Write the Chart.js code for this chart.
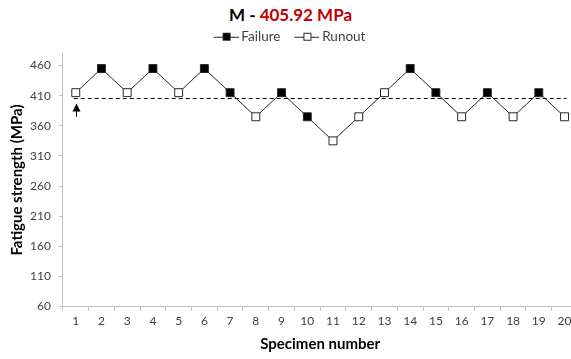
<!DOCTYPE html>
<html lang="en">
<head>
  <meta charset="UTF-8" />
  <title>Staircase fatigue test</title>
  <script src="https://cdn.jsdelivr.net/npm/chart.js"></script>
  <style>
    * { box-sizing: border-box; }
    body {
      margin: 0;
      background: #fff;
      font-family: Lato, 'Liberation Sans', sans-serif;
      width: 571px;
      height: 359px;
      overflow: hidden;
    }
    #title {
      width: 571px;
      height: 27px;
      text-align: center;
      font-size: 17px;
      font-weight: bold;
      line-height: 30px;
      color: #000;
      padding-left: 10px;
    }
    #title .red { color: #c00000; }
    /* plot runs a little past the right edge, as in the original */
    #wrap {
      position: relative;
      margin-left: -15px;
      width: 599px;
      height: 332px;
    }
  </style>
</head>
<body>
  <div id="title">M - <span class="red">405.92 MPa</span></div>
  <div id="wrap"><canvas id="fatigueChart"></canvas></div>

  <script>
    const specimens = ['1','2','3','4','5','6','7','8','9','10','11','12','13','14','15','16','17','18','19','20'];
    const stressLevels = [415, 455, 415, 455, 415, 455, 415, 375, 415, 375, 335, 375, 415, 455, 415, 375, 415, 375, 415, 375];
    // F = failure, R = runout
    const outcomes = ['R','F','R','F','R','F','F','R','F','F','R','R','R','F','F','R','F','R','F','R'];
    const meanStrength = 405.92;
    const startArrow = [375, 397]; // arrow under specimen 1 (from, to)
    const yTicks = [60, 110, 160, 210, 260, 310, 360, 410, 460];

    const ink = '#262626';

    // legend marker: line with a square in the middle, blank margin on the left
    function legendIcon(filled) {
      const c = document.createElement('canvas');
      c.width = 40; c.height = 10;
      const g = c.getContext('2d');
      g.strokeStyle = ink;
      g.lineWidth = 1;
      g.beginPath();
      g.moveTo(15, 5.5); g.lineTo(40, 5.5);
      g.stroke();
      g.fillStyle = filled ? '#000' : '#fff';
      g.fillRect(24, 1, 8, 8);
      g.strokeRect(24.5, 1.5, 7, 7);
      return c;
    }

    const extrasPlugin = {
      id: 'extras',
      afterLayout(chart) {
        // legend sits a bit left of centre in the original
        chart.legend.left -= 12;
        chart.legend.right -= 12;
      },
      afterDatasetsDraw(chart) {
        const { ctx, scales: { x, y } } = chart;
        ctx.save();
        // mean line
        ctx.strokeStyle = '#000';
        ctx.lineWidth = 1;
        ctx.setLineDash([4, 3]);
        const ym = Math.round(y.getPixelForValue(meanStrength)) + 0.5;
        ctx.beginPath();
        ctx.moveTo(x.getPixelForValue(0) - 2, ym);
        ctx.lineTo(x.getPixelForValue(specimens.length - 1) + 2, ym);
        ctx.stroke();
        ctx.setLineDash([]);
        // start arrow
        const ax = Math.round(x.getPixelForValue(0)) + 0.5;
        const y0 = y.getPixelForValue(startArrow[0]);
        const y1 = y.getPixelForValue(startArrow[1]);
        ctx.beginPath();
        ctx.moveTo(ax, y0);
        ctx.lineTo(ax, y1 + 6);
        ctx.stroke();
        ctx.fillStyle = '#000';
        ctx.beginPath();
        ctx.moveTo(ax, y1);
        ctx.lineTo(ax - 4, y1 + 8);
        ctx.lineTo(ax + 4, y1 + 8);
        ctx.closePath();
        ctx.fill();
        ctx.restore();
      }
    };

    const failIcon = legendIcon(true);
    const runIcon = legendIcon(false);

    new Chart(document.getElementById('fatigueChart'), {
      type: 'line',
      data: {
        labels: specimens,
        datasets: [{
          label: 'Staircase',
          data: stressLevels,
          borderColor: ink,
          borderWidth: 1,
          tension: 0,
          pointStyle: 'rect',
          pointRadius: 5.6,
          pointHoverRadius: 5.6,
          pointBorderWidth: 1,
          pointBorderColor: ink,
          pointBackgroundColor: outcomes.map(o => o === 'F' ? '#000' : '#fff')
        }]
      },
      options: {
        animation: false,
        responsive: true,
        maintainAspectRatio: false,
        layout: { padding: { left: 23, right: 0, top: 0, bottom: 2 } },
        plugins: {
          tooltip: { enabled: false },
          legend: {
            display: true,
            position: 'top',
            labels: {
              usePointStyle: true,
              pointStyleWidth: 32,
              color: '#404040',
              font: { family: 'Lato', size: 13.5 },
              padding: 3,
              generateLabels: () => [
                { text: 'Failure', pointStyle: failIcon, fontColor: '#404040', lineWidth: 0, strokeStyle: 'transparent', fillStyle: 'transparent' },
                { text: 'Runout', pointStyle: runIcon, fontColor: '#404040', lineWidth: 0, strokeStyle: 'transparent', fillStyle: 'transparent' }
              ]
            },
            onClick: () => {}
          }
        },
        scales: {
          x: {
            offset: true,
            grid: {
              offset: true,
              drawOnChartArea: false,
              drawTicks: true,
              tickLength: 4,
              color: '#bfbfbf'
            },
            border: { color: '#bfbfbf' },
            ticks: {
              color: '#404040',
              font: { family: 'Lato', size: 12 },
              maxRotation: 0,
              autoSkip: false,
              padding: 3
            },
            title: {
              display: true,
              text: 'Specimen number',
              color: '#000',
              font: { family: 'Lato', size: 15, weight: 'bold' },
              padding: { top: 4 }
            }
          },
          y: {
            min: 60,
            max: 480,
            afterBuildTicks: axis => { axis.ticks = yTicks.map(v => ({ value: v })); },
            grid: {
              drawOnChartArea: false,
              drawTicks: true,
              tickLength: 4,
              color: '#bfbfbf'
            },
            border: { color: '#bfbfbf' },
            ticks: {
              color: '#404040',
              font: { family: 'Lato', size: 12 },
              padding: 8
            },
            title: {
              display: true,
              text: 'Fatigue strength (MPa)',
              color: '#000',
              font: { family: 'Lato', size: 15, weight: 'bold' },
              padding: { top: 0, bottom: -4 }
            }
          }
        }
      },
      plugins: [extrasPlugin]
    });
  </script>
</body>
</html>
